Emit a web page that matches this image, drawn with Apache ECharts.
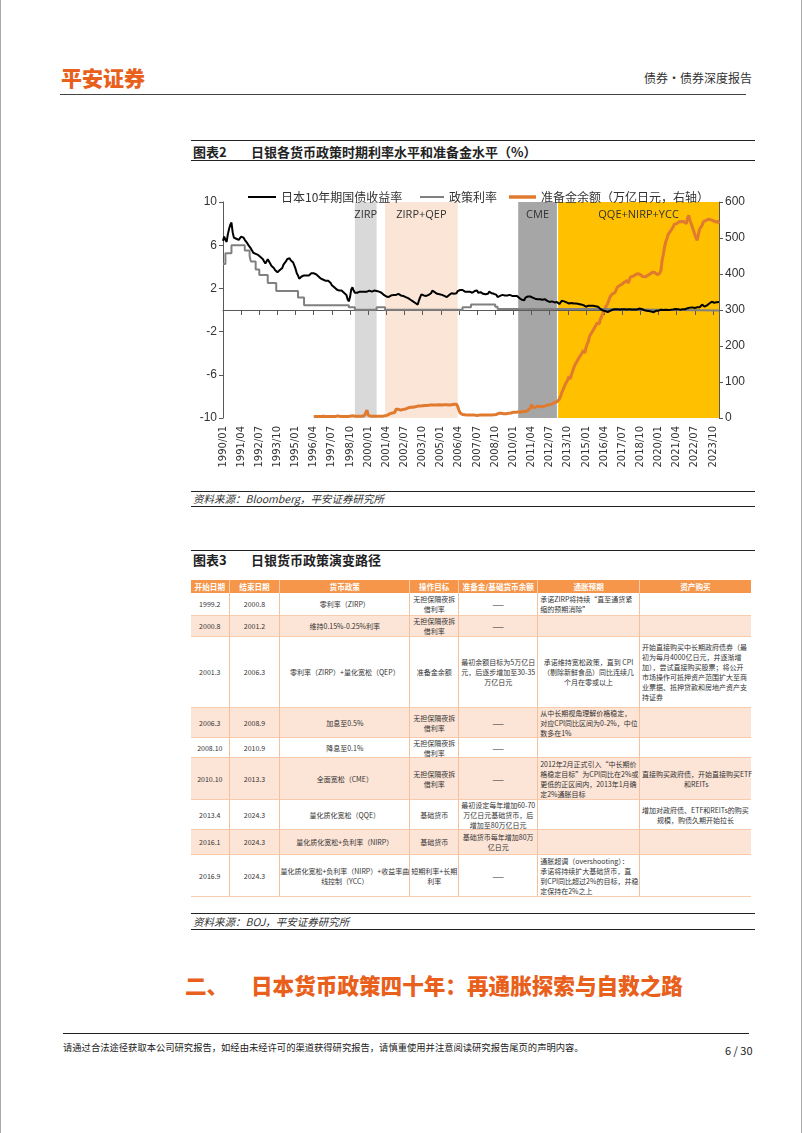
<!DOCTYPE html>
<html><head><meta charset="utf-8">
<script src="https://cdn.jsdelivr.net/npm/echarts@6/dist/echarts.min.js"></script>
<style>
*{margin:0;padding:0;box-sizing:border-box}
html,body{width:802px;height:1133px;background:#fff;overflow:hidden}
#page{position:relative;width:802px;height:1133px;font-family:"Noto Sans CJK SC",sans-serif;color:#222;border-left:1px solid #aaa;border-right:1px solid #aaa}
.abs{position:absolute;white-space:nowrap}
.hl{position:absolute;height:0;border-top:1.5px solid #222}
#tbl{position:absolute;left:190px;top:580px;width:560px;display:grid;
 grid-template-columns:38.6px 50.8px 129.8px 49.1px 78.9px 101.8px 111px;
 grid-template-rows:13px 23px 21px 71px 30px 20px 42px 30px 25px 42px;}
#tbl div{display:flex;align-items:center;justify-content:center;text-align:center;font-size:7px;line-height:10px;color:#333;white-space:nowrap;border-right:1px solid #F5C09C;border-bottom:1px solid #F8CBAD;overflow:visible;padding:0 1px}
#tbl div.h{background:#F5964A;color:#fff;font-weight:bold;font-size:7.6px;border-right:1px solid #F8CBAD;border-bottom:none}
#tbl div.p{background:#FCE4D6}
#tbl div.l{justify-content:flex-start;text-align:left;padding-left:2px}
#tbl div.last{border-right:none}
</style></head>
<body><div id="page">
<div class="abs" style="left:60px;top:63px;font-size:21px;font-weight:900;color:#E8601C;line-height:28px">平安证券</div>
<div class="abs" style="right:49px;top:70px;font-size:12px;color:#333;line-height:16px">债券·债券深度报告</div>
<div class="hl" style="left:59px;width:686px;top:94px;border-top-color:#444"></div>

<div class="hl" style="left:190px;width:564px;top:140px"></div>
<div class="abs" style="left:192px;top:143px;font-size:13px;font-weight:bold;line-height:18px">图表2</div>
<div class="abs" style="left:250px;top:143px;font-size:13px;font-weight:bold;line-height:18px">日银各货币政策时期利率水平和准备金水平（%）</div>
<div class="hl" style="left:190px;width:564px;top:160px;border-top-width:1px"></div>

<div id="chart" style="position:absolute;left:190px;top:170px;width:570px;height:318px"></div>

<div class="hl" style="left:190px;width:564px;top:491px"></div>
<div class="abs" style="left:192px;top:492px;font-size:10.5px;font-style:italic;color:#333;line-height:14px">资料来源：Bloomberg，平安证券研究所</div>
<div class="hl" style="left:190px;width:564px;top:506px"></div>

<div class="hl" style="left:190px;width:564px;top:550px"></div>
<div class="abs" style="left:192px;top:551px;font-size:13px;font-weight:bold;line-height:18px">图表3</div>
<div class="abs" style="left:250px;top:551px;font-size:13px;font-weight:bold;line-height:18px">日银货币政策演变路径</div>

<div id="tbl"></div>

<div class="hl" style="left:190px;width:564px;top:913px"></div>
<div class="abs" style="left:192px;top:915px;font-size:10.5px;font-style:italic;color:#333;line-height:14px">资料来源：BOJ，平安证券研究所</div>
<div class="hl" style="left:190px;width:564px;top:929px"></div>

<div class="abs" style="left:184px;top:971px;font-size:21.6px;font-weight:900;color:#E8601C;line-height:28px">二、</div>
<div class="abs" style="left:250px;top:971px;font-size:21.6px;font-weight:900;color:#E8601C;line-height:28px">日本货币政策四十年：再通胀探索与自救之路</div>

<div class="hl" style="left:62px;width:686px;top:1033px;border-top-width:1.5px"></div>
<div class="abs" style="left:62px;top:1041px;font-size:9.3px;color:#222;line-height:12px">请通过合法途径获取本公司研究报告，如经由未经许可的渠道获得研究报告，请慎重使用并注意阅读研究报告尾页的声明内容。</div>
<div class="abs" style="left:724px;top:1043px;font-size:11px;color:#222;line-height:14px">6 / 30</div>
</div>
<script>
// ---------- chart data ----------
const months = [];
for (let y = 1990; y <= 2024; y++) {
  for (let m = 1; m <= 12; m++) {
    if (y === 2024 && m > 3) break;
    months.push(y + '/' + String(m).padStart(2, '0'));
  }
}
const tickLabels = ['1990/01','1991/04','1992/07','1993/10','1995/01','1996/04','1997/07','1998/10','2000/01','2001/04','2002/07','2003/10','2005/01','2006/04','2007/07','2008/10','2010/01','2011/04','2012/07','2013/10','2015/01','2016/04','2017/07','2018/10','2020/01','2021/04','2022/07','2023/10'];
const leftTicks = [-10, -6, -2, 2, 6, 10];
const rightTicks = [0, 100, 200, 300, 400, 500, 600];

// 日本10年期国债收益率 (monthly, 1990/01 - 2024/03)
const jgb10y = [
 6.4,6.8,6.5,6.3,7.0,7.5,7.9,8.1,7.2,6.7,6.6,6.6,
 6.6,6.5,6.6,6.8,6.8,6.7,6.5,6.4,6.2,6.0,5.9,5.7,
 5.5,5.3,5.4,5.2,5.2,5.1,5.0,4.9,4.8,4.7,4.5,4.3,
 4.4,4.7,4.6,4.3,4.1,4.2,3.9,3.7,3.6,3.5,3.6,3.7,
 3.8,3.9,4.2,4.3,4.5,4.7,4.7,4.8,4.6,4.6,4.4,4.1,
 3.8,3.4,3.2,2.9,3.0,3.1,3.0,3.2,3.1,3.2,3.3,3.2,
 3.3,3.4,3.5,3.4,3.3,3.3,3.2,3.1,3.0,2.9,2.9,2.8,
 2.7,2.7,2.6,2.7,2.6,2.5,2.3,2.2,2.1,2.0,1.9,1.9,
 1.8,1.8,1.8,1.7,1.6,1.5,1.4,1.0,0.8,1.2,1.9,2.1,
 1.8,1.6,1.7,1.6,1.6,1.7,1.8,1.7,1.8,1.7,1.8,1.7,
 1.8,1.8,1.8,1.7,1.7,1.8,1.7,1.75,1.8,1.7,1.6,1.6,
 1.5,1.4,1.3,1.25,1.3,1.2,1.3,1.35,1.4,1.4,1.35,1.4,
 1.45,1.5,1.4,1.35,1.3,1.3,1.25,1.2,1.2,1.1,1.0,0.95,
 0.85,0.8,0.75,0.65,0.55,0.5,0.9,1.2,1.45,1.4,1.35,1.35,
 1.3,1.25,1.4,1.5,1.55,1.8,1.75,1.65,1.5,1.5,1.45,1.45,
 1.35,1.4,1.35,1.3,1.25,1.2,1.25,1.4,1.45,1.55,1.5,1.5,
 1.5,1.55,1.75,1.9,1.85,1.9,1.85,1.7,1.7,1.75,1.7,1.65,
 1.7,1.7,1.6,1.65,1.75,1.85,1.8,1.6,1.65,1.65,1.55,1.5,
 1.45,1.45,1.3,1.5,1.7,1.6,1.55,1.45,1.5,1.5,1.4,1.2,
 1.3,1.3,1.3,1.4,1.45,1.35,1.4,1.35,1.3,1.4,1.3,1.3,
 1.35,1.3,1.4,1.3,1.25,1.1,1.05,0.95,0.95,0.9,1.15,1.15,
 1.25,1.25,1.25,1.25,1.15,1.15,1.05,1.05,1.0,1.0,1.0,1.0,
 0.95,0.95,1.0,0.9,0.85,0.85,0.75,0.8,0.8,0.75,0.7,0.8,
 0.75,0.7,0.55,0.6,0.85,0.85,0.8,0.75,0.7,0.6,0.6,0.7,
 0.65,0.6,0.6,0.6,0.6,0.55,0.55,0.5,0.5,0.45,0.45,0.35,
 0.3,0.35,0.4,0.35,0.4,0.45,0.4,0.4,0.35,0.3,0.3,0.27,
 0.1,-0.05,-0.05,-0.1,-0.1,-0.2,-0.2,-0.07,-0.08,-0.05,0.02,0.05,
 0.08,0.07,0.07,0.02,0.05,0.08,0.08,0.02,0.06,0.06,0.04,0.05,
 0.08,0.05,0.05,0.05,0.04,0.04,0.05,0.1,0.13,0.13,0.09,0.0,
 0.0,-0.03,-0.08,-0.05,-0.1,-0.15,-0.15,-0.27,-0.2,-0.12,-0.08,-0.02,
 -0.06,-0.13,0.02,-0.03,0.0,0.02,0.02,0.05,0.01,0.04,0.02,0.02,
 0.05,0.15,0.1,0.1,0.08,0.06,0.02,0.02,0.07,0.1,0.07,0.07,
 0.17,0.2,0.22,0.23,0.24,0.23,0.18,0.22,0.25,0.25,0.25,0.42,
 0.5,0.5,0.32,0.39,0.43,0.4,0.6,0.65,0.77,0.95,0.67,0.61,
 0.72,0.71,0.73
];

// 政策利率: change points (held until next change)
const policyRate = [
 ['1990/01',4.25],['1990/03',5.25],['1990/08',6.0],['1991/07',5.5],['1991/11',5.0],['1991/12',4.5],
 ['1992/04',3.75],['1992/07',3.25],['1993/02',2.5],['1993/09',1.75],['1995/03',1.15],['1995/08',0.45],
 ['1998/09',0.25],['1999/02',0.03],['2000/08',0.25],['2001/03',0.02],['2006/07',0.25],['2007/02',0.5],
 ['2008/10',0.3],['2008/12',0.1],['2016/02',-0.05],['2024/03',-0.05]
];

// 准备金余额 (万亿日元, monthly from 1996/04)
const reserveStart = '1996/04';
const reserves = [
 4,4,4,4,4,4,4,4,5,
 4,4,4,4,4,4,4,4,4,4,5,6,
 4,4,5,4,4,4,4,4,5,5,5,6,
 5,5,5,5,5,5,5,5,6,7,10,22,
 8,5,5,5,5,5,5,5,5,5,5,6,
 5,5,6,9,8,10,12,12,14,14,15,24,
 24,24,27,22,22,24,24,25,27,28,28,30,
 28,30,31,31,32,33,33,33,33,34,35,35,
 35,35,35,36,36,36,36,36,36,36,36,37,
 36,36,37,37,36,37,37,36,36,37,37,38,
 37,38,32,22,14,10,10,9,9,8,8,9,
 8,8,8,8,8,8,7,8,8,8,8,9,
 8,8,8,8,8,8,8,8,9,9,10,12,
 13,12,13,12,12,13,12,12,13,13,14,15,
 16,16,16,17,17,16,16,17,18,18,18,20,
 21,20,28,37,30,29,29,30,33,32,32,31,
 31,31,33,34,36,36,37,38,39,41,43,45,
 45,47,52,60,70,78,86,94,100,106,116,108,
 120,130,140,148,152,160,166,170,176,181,188,180,
 195,205,213,227,232,238,243,250,256,263,268,262,
 275,282,290,300,306,312,318,322,337,340,345,340,
 348,352,364,366,368,370,372,374,378,380,382,375,
 385,392,392,394,396,398,399,401,398,398,400,393,
 393,392,393,396,398,400,402,405,405,404,406,398,
 400,402,410,438,455,475,490,498,510,515,520,515,
 530,538,541,540,543,545,546,546,546,545,546,540,
 555,563,548,540,530,520,510,500,494,510,525,520,
 535,545,550,548,550,552,552,551,548,548,552,545,
 548,546,540
];

// policy periods shown as bands
const bands = [
 {name:'ZIRP', from:'1999/02', to:'2000/08', color:'#D9D9D9'},
 {name:'ZIRP+QEP', from:'2001/03', to:'2006/03', color:'#FBE5D6'},
 {name:'CME', from:'2010/05', to:'2013/01', color:'#A6A6A6'},
 {name:'QQE+NIRP+YCC', from:'2013/02', to:'2024/03', color:'#FFC000'}
];

// ---------- table ----------
const tableHeader = ['开始日期','结束日期','货币政策','操作目标','准备金/基础货币余额','通胀预期','资产购买'];
const tableRows = [
 ['1999.2','2000.8','零利率（ZIRP）','无担保隔夜拆\n借利率','——','L|承诺ZIRP将持续“直至通货紧\n缩的预期消除”',''],
 ['2000.8','2001.2','维持0.15%-0.25%利率','无担保隔夜拆\n借利率','——','',''],
 ['2001.3','2006.3','零利率（ZIRP）+量化宽松（QEP）','准备金余额','最初余额目标为5万亿日\n元，后逐步增加至30-35\n万亿日元','承诺维持宽松政策，直到 CPI\n（剔除新鲜食品）同比连续几\n个月在零或以上','L|开始直接购买中长期政府债券（最\n初为每月4000亿日元，并逐渐增\n加），尝试直接购买股票；将公开\n市场操作可抵押资产范围扩大至商\n业票据、抵押贷款和房地产资产支\n持证券'],
 ['2006.3','2008.9','加息至0.5%','无担保隔夜拆\n借利率','——','L|从中长期视角理解价格稳定，\n对应CPI同比区间为0-2%，中位\n数多在1%',''],
 ['2008.10','2010.9','降息至0.1%','无担保隔夜拆\n借利率','——','',''],
 ['2010.10','2013.3','全面宽松（CME）','无担保隔夜拆\n借利率','——','L|2012年2月正式引入“中长期价\n格稳定目标”为CPI同比在2%或\n更低的正区间内，2013年1月确\n定2%通胀目标','L|直接购买政府债，开始直接购买ETF\n　　　　　　和REITs'],
 ['2013.4','2024.3','量化质化宽松（QQE）','基础货币','最初设定每年增加60-70\n万亿日元基础货币，后\n增加至80万亿日元','','增加对政府债、ETF和REITs的购买\n规模，购债久期开始拉长'],
 ['2016.1','2024.3','量化质化宽松+负利率（NIRP）','基础货币','基础货币每年增加80万\n亿日元','',''],
 ['2016.9','2024.3','量化质化宽松+负利率（NIRP）+收益率曲\n线控制（YCC）','短期利率+长期\n利率','——','L|通胀超调（overshooting）：\n承诺将持续扩大基础货币，直\n到CPI同比超过2%的目标，并稳\n定保持在2%之上','']
];
(function buildTable(){
  const t = document.getElementById('tbl');
  const mk = (txt, cls) => {
    const d = document.createElement('div');
    let left = false;
    if (txt.startsWith('L|')) { left = true; txt = txt.slice(2); }
    d.className = cls + (left ? ' l' : '');
    const s = document.createElement('span');
    txt.split('\n').forEach((ln, i) => {
      if (i) s.appendChild(document.createElement('br'));
      s.appendChild(document.createTextNode(ln));
    });
    d.appendChild(s);
    t.appendChild(d);
  };
  tableHeader.forEach((h, i) => mk(h, 'h' + (i === 6 ? ' last' : '')));
  tableRows.forEach((r, ri) => {
    r.forEach((c, ci) => mk(c, (ri % 2 === 1 ? 'p' : '') + (ci === 6 ? ' last' : '')));
  });
})();

// ---------- chart ----------
const chart = echarts.init(document.getElementById('chart'), null, {renderer:'canvas'});
const showTick = (idx, val) => tickLabels.indexOf(val) >= 0;
const axisColor = '#595959';
const reserveData = reserves.map((v, i) => [months[months.indexOf(reserveStart) + i], v]);
const yieldData = jgb10y.map((v, i) => [months[i], v]);
const legendText = {fontSize: 12, color: '#333', fontFamily: 'Noto Sans CJK SC'};

chart.setOption({
  animation: false,
  legend: [
    {left: 52, top: 16, itemWidth: 28, itemHeight: 2, icon: 'rect', textStyle: legendText,
     data: [{name: '日本10年期国债收益率', itemStyle: {color: '#000'}}]},
    {left: 224, top: 16, itemWidth: 24, itemHeight: 2, icon: 'rect', textStyle: legendText,
     data: [{name: '政策利率', itemStyle: {color: '#808080'}}]},
    {left: 313, top: 16, itemWidth: 27, itemHeight: 3.5, icon: 'rect', textStyle: legendText,
     data: [{name: '准备金余额（万亿日元，右轴）', itemStyle: {color: '#E07A2E'}}]}
  ],
  grid: [
    {left: 32, top: 32, width: 496, height: 216},
    {left: 32, top: 32, width: 496, height: 216}
  ],
  xAxis: [
    {type: 'category', data: months, boundaryGap: false, gridIndex: 0,
     axisLine: {show: false, onZero: false}, axisTick: {show: false},
     axisLabel: {interval: showTick, rotate: 90, margin: 8, fontSize: 10, color: '#333', fontFamily: 'DejaVu Sans'}},
    {type: 'category', data: months, boundaryGap: false, gridIndex: 1, z: 3,
     axisLine: {show: true, onZero: true, lineStyle: {color: axisColor, width: 1.2}},
     axisTick: {show: true, interval: showTick, length: 5, lineStyle: {color: axisColor}},
     axisLabel: {show: false}}
  ],
  yAxis: [
    {type: 'value', gridIndex: 0, min: -10, max: 10, interval: 4, position: 'left', z: 3,
     axisLine: {show: true, lineStyle: {color: axisColor}}, axisTick: {show: true, length: 4, lineStyle: {color: axisColor}},
     splitLine: {show: false},
     axisLabel: {margin: 6, fontSize: 12, color: '#333', fontFamily: 'Liberation Sans',
       formatter: v => leftTicks.indexOf(v) >= 0 ? String(v) : ''}},
    {type: 'value', gridIndex: 0, min: 0, max: 600, interval: 100, position: 'right', z: 3,
     axisLine: {show: true, lineStyle: {color: axisColor}}, axisTick: {show: true, length: 4, lineStyle: {color: axisColor}},
     splitLine: {show: false},
     axisLabel: {margin: 6, fontSize: 12, color: '#333', fontFamily: 'Liberation Sans',
       formatter: v => rightTicks.indexOf(v) >= 0 ? String(v) : ''}},
    {type: 'value', gridIndex: 1, min: -10, max: 10, show: false}
  ],
  series: [
    {name: 'bands', type: 'line', xAxisIndex: 0, yAxisIndex: 0, data: [], z: 1, silent: true,
     markArea: {silent: true,
       label: {show: true, position: 'insideTop', distance: 7, fontSize: 11, color: '#333', fontFamily: 'Open Sans'},
       data: bands.map(b => [{name: b.name, xAxis: b.from, itemStyle: {color: b.color}}, {xAxis: b.to}])}},
    {name: '准备金余额（万亿日元，右轴）', type: 'line', xAxisIndex: 0, yAxisIndex: 1, data: reserveData,
     showSymbol: false, symbol: 'none', z: 4, lineStyle: {color: '#E07A2E', width: 3}, itemStyle: {color: '#E07A2E'}},
    {name: '政策利率', type: 'line', xAxisIndex: 0, yAxisIndex: 0, data: policyRate, step: 'end',
     showSymbol: false, symbol: 'none', z: 5, lineStyle: {color: '#808080', width: 2}, itemStyle: {color: '#808080'}},
    {name: '日本10年期国债收益率', type: 'line', xAxisIndex: 0, yAxisIndex: 0, data: yieldData,
     showSymbol: false, symbol: 'none', z: 6, lineStyle: {color: '#000', width: 2}, itemStyle: {color: '#000'}}
  ]
});
</script>
</body></html>
